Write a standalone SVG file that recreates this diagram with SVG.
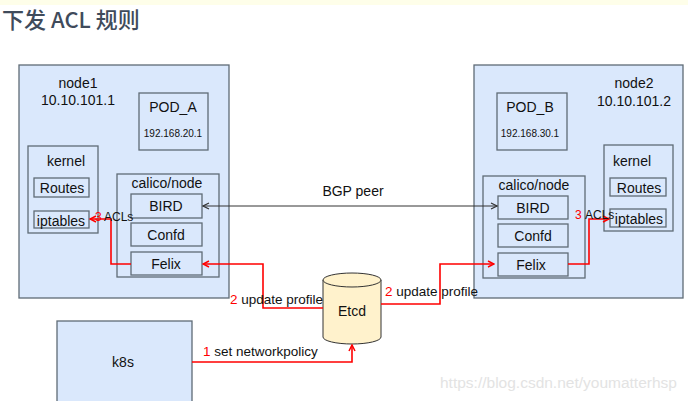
<svg xmlns="http://www.w3.org/2000/svg" width="688" height="401" viewBox="0 0 688 401">
<style>
.box{fill:#dae8fc;stroke:#5f6b76;stroke-width:1.3}
.t{font-family:"Liberation Sans",Arial,sans-serif;font-size:14px;fill:#111;text-anchor:middle}
.ts{font-family:"Liberation Sans",Arial,sans-serif;font-size:10px;fill:#111;text-anchor:middle}
.r{fill:#ff0000}
.red{fill:none;stroke:#ff0000;stroke-width:1.6}
.blk{fill:none;stroke:#333;stroke-width:1}
</style>
<defs>
<marker id="ar" markerWidth="8" markerHeight="8" refX="7" refY="4" orient="auto" markerUnits="userSpaceOnUse">
<path d="M1,1 L7,4 L1,7" fill="none" stroke="#ff0000" stroke-width="1.5"/>
</marker>
<marker id="ab" markerWidth="8" markerHeight="8" refX="7" refY="4" orient="auto-start-reverse" markerUnits="userSpaceOnUse">
<path d="M1,1 L7,4 L1,7" fill="none" stroke="#333" stroke-width="1.2"/>
</marker>
</defs>
<rect x="0" y="0" width="688" height="5" fill="#fefee9"/>
<rect x="0" y="5" width="688" height="396" fill="#fff"/>
<text x="2" y="28" font-family="'Noto Sans CJK SC','Noto Sans',sans-serif" font-size="22" font-weight="500" fill="#3f4b5b">下发 ACL 规则</text>

<g id="node1">
<rect class="box" x="19" y="65" width="210" height="233"/>
<text class="t" x="78" y="88">node1</text>
<text class="t" x="78" y="105">10.10.101.1</text>
</g>
<g id="pod_a">
<rect class="box" x="139" y="93" width="69" height="57"/>
<text class="t" x="173" y="112">POD_A</text>
<text class="ts" x="173" y="137">192.168.20.1</text>
</g>
<g id="kernel1">
<rect class="box" x="28" y="146" width="70" height="87"/>
<text class="t" x="66" y="166">kernel</text>
<rect class="box" x="34" y="178" width="55" height="19"/>
<text class="t" x="62" y="193">Routes</text>
<rect class="box" x="34" y="211" width="55" height="17"/>
<text class="t" x="61" y="226">iptables</text>
</g>
<g id="calico1">
<rect class="box" x="117" y="174" width="102" height="103"/>
<text class="t" x="167" y="188">calico/node</text>
<rect class="box" x="131" y="194" width="71" height="24"/>
<text class="t" x="166" y="211">BIRD</text>
<rect class="box" x="131" y="223" width="71" height="23"/>
<text class="t" x="166" y="240">Confd</text>
<rect class="box" x="131" y="252" width="71" height="23"/>
<text class="t" x="166" y="269">Felix</text>
</g>

<g id="node2">
<rect class="box" x="474" y="65" width="209" height="233"/>
<text class="t" x="634" y="88">node2</text>
<text class="t" x="634" y="106">10.10.101.2</text>
</g>
<g id="pod_b">
<rect class="box" x="497" y="93" width="70" height="57"/>
<text class="t" x="530" y="112">POD_B</text>
<text class="ts" x="530" y="137">192.168.30.1</text>
</g>
<g id="kernel2">
<rect class="box" x="604" y="145" width="69" height="86"/>
<text class="t" x="632" y="166">kernel</text>
<rect class="box" x="610" y="178" width="56" height="18"/>
<text class="t" x="639" y="193">Routes</text>
<rect class="box" x="610" y="209" width="56" height="18"/>
<text class="t" x="639" y="224">iptables</text>
</g>
<g id="calico2">
<rect class="box" x="483" y="176" width="102" height="102"/>
<text class="t" x="534" y="190">calico/node</text>
<rect class="box" x="498" y="196" width="70" height="23"/>
<text class="t" x="533" y="213">BIRD</text>
<rect class="box" x="498" y="224" width="70" height="23"/>
<text class="t" x="533" y="241">Confd</text>
<rect class="box" x="498" y="253" width="70" height="23"/>
<text class="t" x="531" y="270">Felix</text>
</g>

<g id="etcd">
<path d="M323,280 L323,337 A29,7 0 0 0 381,337 L381,280" fill="#fff2cc" stroke="#333" stroke-width="1"/>
<ellipse cx="352" cy="280" rx="29" ry="7" fill="#fff2cc" stroke="#333" stroke-width="1"/>
<text class="t" x="352" y="316">Etcd</text>
</g>

<g id="k8s">
<rect class="box" x="57" y="321" width="135" height="90"/>
<text class="t" x="123" y="367">k8s</text>
</g>

<g id="connectors">
<path class="blk" d="M203,206 L497,206" marker-start="url(#ab)" marker-end="url(#ab)"/>
<path class="red" d="M131,264 L111,264 L111,219 L90,219" marker-end="url(#ar)"/>
<path class="red" d="M568,264 L589,264 L589,219 L609,219" marker-end="url(#ar)"/>
<path class="red" d="M323,308 L263,308 L263,264 L203,264" marker-end="url(#ar)"/>
<path class="red" d="M381,304 L440,304 L440,264 L494,264" marker-end="url(#ar)"/>
<path class="red" d="M192,362 L352,362 L352,345" marker-end="url(#ar)"/>
</g>

<g id="labels">
<text class="t" x="353" y="196">BGP peer</text>
<text x="95" y="221" font-family="'Liberation Sans',Arial,sans-serif" font-size="12" class="r">3</text>
<text x="104" y="221" font-family="'Liberation Sans',Arial,sans-serif" font-size="12" fill="#111">ACLs</text>
<text x="575" y="219" font-family="'Liberation Sans',Arial,sans-serif" font-size="12" class="r">3</text>
<text x="585" y="219" font-family="'Liberation Sans',Arial,sans-serif" font-size="12" fill="#111">ACLs</text>
<text x="230" y="304" font-family="'Liberation Sans',Arial,sans-serif" font-size="13.5"><tspan class="r">2</tspan><tspan fill="#111"> update profile</tspan></text>
<text x="385" y="296" font-family="'Liberation Sans',Arial,sans-serif" font-size="13.5"><tspan class="r">2</tspan><tspan fill="#111"> update profile</tspan></text>
<text x="203" y="356" font-family="'Liberation Sans',Arial,sans-serif" font-size="13.5"><tspan class="r">1</tspan><tspan fill="#111"> set networkpolicy</tspan></text>
</g>
<text x="440" y="388" font-family="'Liberation Sans',Arial,sans-serif" font-size="15.5" fill="#e3e3e3">https://blog.csdn.net/youmatterhsp</text>
</svg>
